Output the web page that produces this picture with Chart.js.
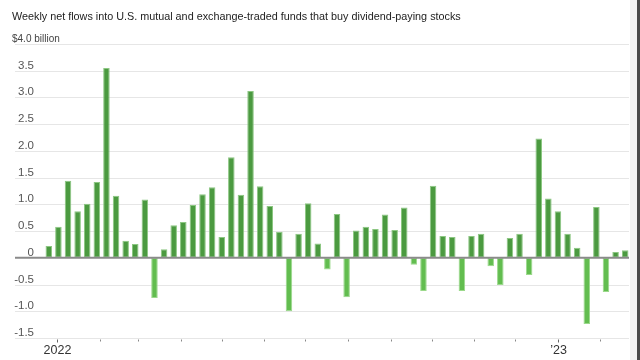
<!DOCTYPE html>
<html>
<head>
<meta charset="utf-8">
<script src="https://cdn.jsdelivr.net/npm/chart.js@4/dist/chart.umd.min.js"></script>
<style>
  html, body { margin: 0; padding: 0; background: #fff; }
  #wrap { position: relative; width: 640px; height: 360px; }
  #edge { position: absolute; left: 630px; top: 0; width: 7px; height: 360px; background: #f3f3f3; }
  #edge2 { position: absolute; left: 637px; top: 0; width: 3px; height: 360px; background: #4a4a4a; }
</style>
</head>
<body>
<div id="wrap">
  <canvas id="chart" width="640" height="360"></canvas>
  <div id="edge"></div><div id="edge2"></div>
</div>
<script>
// weekly net flows, $ billion, one bar per week
const weeks = [
  "2021-12-26",
  "2022-01-02", "2022-01-09", "2022-01-16", "2022-01-23", "2022-01-30",
  "2022-02-06", "2022-02-13", "2022-02-20", "2022-02-27",
  "2022-03-06", "2022-03-13", "2022-03-20", "2022-03-27",
  "2022-04-03", "2022-04-10", "2022-04-17", "2022-04-24",
  "2022-05-01", "2022-05-08", "2022-05-15", "2022-05-22", "2022-05-29",
  "2022-06-05", "2022-06-12", "2022-06-19", "2022-06-26",
  "2022-07-03", "2022-07-10", "2022-07-17", "2022-07-24", "2022-07-31",
  "2022-08-07", "2022-08-14", "2022-08-21", "2022-08-28",
  "2022-09-04", "2022-09-11", "2022-09-18", "2022-09-25",
  "2022-10-02", "2022-10-09", "2022-10-16", "2022-10-23", "2022-10-30",
  "2022-11-06", "2022-11-13", "2022-11-20", "2022-11-27",
  "2022-12-04", "2022-12-11", "2022-12-18", "2022-12-25",
  "2023-01-01", "2023-01-08", "2023-01-15", "2023-01-22", "2023-01-29",
  "2023-02-05", "2023-02-12", "2023-02-19"
];
const flows = [
  0.22, 0.58, 1.44, 0.87, 1.01, 1.42, 3.55, 1.16, 0.32, 0.26,
  1.09, -0.75, 0.16, 0.61, 0.67, 0.99, 1.19, 1.32, 0.39, 1.88,
  1.18, 3.12, 1.34, 0.97, 0.49, -1.00, 0.45, 1.02, 0.27, -0.22,
  0.82, -0.74, 0.51, 0.58, 0.54, 0.81, 0.52, 0.94, -0.13, -0.62,
  1.35, 0.41, 0.39, -0.62, 0.41, 0.45, -0.16, -0.51, 0.37, 0.45,
  -0.32, 2.23, 1.11, 0.87, 0.45, 0.19, -1.24, 0.95, -0.64, 0.11,
  0.14
];
const yTicks = [4.0, 3.5, 3.0, 2.5, 2.0, 1.5, 1.0, 0.5, 0, -0.5, -1.0, -1.5];
const monthTicks = [
  "2022-01-01", "2022-02-01", "2022-03-01", "2022-04-01", "2022-05-01",
  "2022-06-01", "2022-07-01", "2022-08-01", "2022-09-01", "2022-10-01",
  "2022-11-01", "2022-12-01", "2023-01-01", "2023-02-01"
];
const yearLabels = { "2022-01-01": "2022", "2023-01-01": "\u201923" };
const titleText = "Weekly net flows into U.S. mutual and exchange-traded funds that buy dividend-paying stocks";
const unitText = "$4.0 billion";

const UP = "#4b9a40";
const DOWN = "#62bd4f";
const NARROW = '"Liberation Sans Narrow", "Arial Narrow", "Liberation Sans", sans-serif';

function weekIndex(dateStr) {
  const t0 = Date.parse(weeks[0] + "T00:00:00Z");
  return (Date.parse(dateStr + "T00:00:00Z") - t0) / (7 * 86400000);
}

const decor = {
  id: "decor",
  beforeDatasetsDraw(chart) {
    const { ctx } = chart;
    const y = chart.scales.y;
    ctx.save();
    yTicks.forEach((v) => {
      const py = Math.round(y.getPixelForValue(v)) + 0.5;
      if (v !== 0) {
        ctx.strokeStyle = "#e6e6e6";
        ctx.lineWidth = 1;
        ctx.beginPath();
        ctx.moveTo(15, py);
        ctx.lineTo(629, py);
        ctx.stroke();
      }
      if (v === 4.0) return;
      ctx.fillStyle = "#555";
      ctx.font = "11.5px " + NARROW;
      ctx.textAlign = "right";
      ctx.textBaseline = "alphabetic";
      ctx.fillText(v === 0 ? "0" : v.toFixed(1), 34, py - 3);
    });
    ctx.restore();
  },
  afterDatasetsDraw(chart) {
    const { ctx } = chart;
    const x = chart.scales.x;
    const y = chart.scales.y;
    ctx.save();
    // zero line
    const zy = y.getPixelForValue(0);
    ctx.strokeStyle = "#8a8a8a";
    ctx.lineWidth = 2;
    ctx.beginPath();
    ctx.moveTo(15, zy);
    ctx.lineTo(629, zy);
    ctx.stroke();

    // title and unit
    ctx.fillStyle = "#222";
    ctx.font = '10.8px "Liberation Sans", Arial, sans-serif';
    ctx.textAlign = "left";
    ctx.fillText(titleText, 12, 20);
    ctx.fillStyle = "#444";
    ctx.font = "10px " + NARROW;
    ctx.fillText(unitText, 12, 42);

    // month ticks
    const base = Math.round(y.getPixelForValue(-1.5)) + 0.5;
    monthTicks.forEach((m) => {
      const px = Math.round(x.getPixelForValue(weekIndex(m))) + 0.5;
      const major = m in yearLabels;
      ctx.strokeStyle = major ? "#666" : "#888";
      ctx.lineWidth = 1;
      ctx.beginPath();
      ctx.moveTo(px, base + 1);
      ctx.lineTo(px, base + (major ? 4 : 3));
      ctx.stroke();
      if (major) {
        ctx.fillStyle = "#333";
        ctx.font = "12.5px " + NARROW;
        ctx.textAlign = "center";
        ctx.fillText(yearLabels[m], px, 354);
      }
    });
    ctx.restore();
  },
};

new Chart(document.getElementById("chart"), {
  type: "bar",
  data: {
    labels: weeks,
    datasets: [{
      data: flows,
      backgroundColor: flows.map((v) => (v < 0 ? DOWN : UP)),
      borderColor: flows.map((v) => (v < 0 ? "#9bd98b" : "#8cc782")),
      borderWidth: 1,
      borderSkipped: false,
      categoryPercentage: 1,
      barPercentage: 0.68,
    }],
  },
  options: {
    responsive: false,
    animation: false,
    layout: { padding: { left: 44, right: 10, top: 44, bottom: 22 } },
    scales: {
      x: { display: false, offset: true },
      y: { display: false, min: -1.5, max: 4.0 },
    },
    plugins: {
      legend: { display: false },
      tooltip: { enabled: false },
    },
  },
  plugins: [decor],
});
</script>
</body>
</html>
